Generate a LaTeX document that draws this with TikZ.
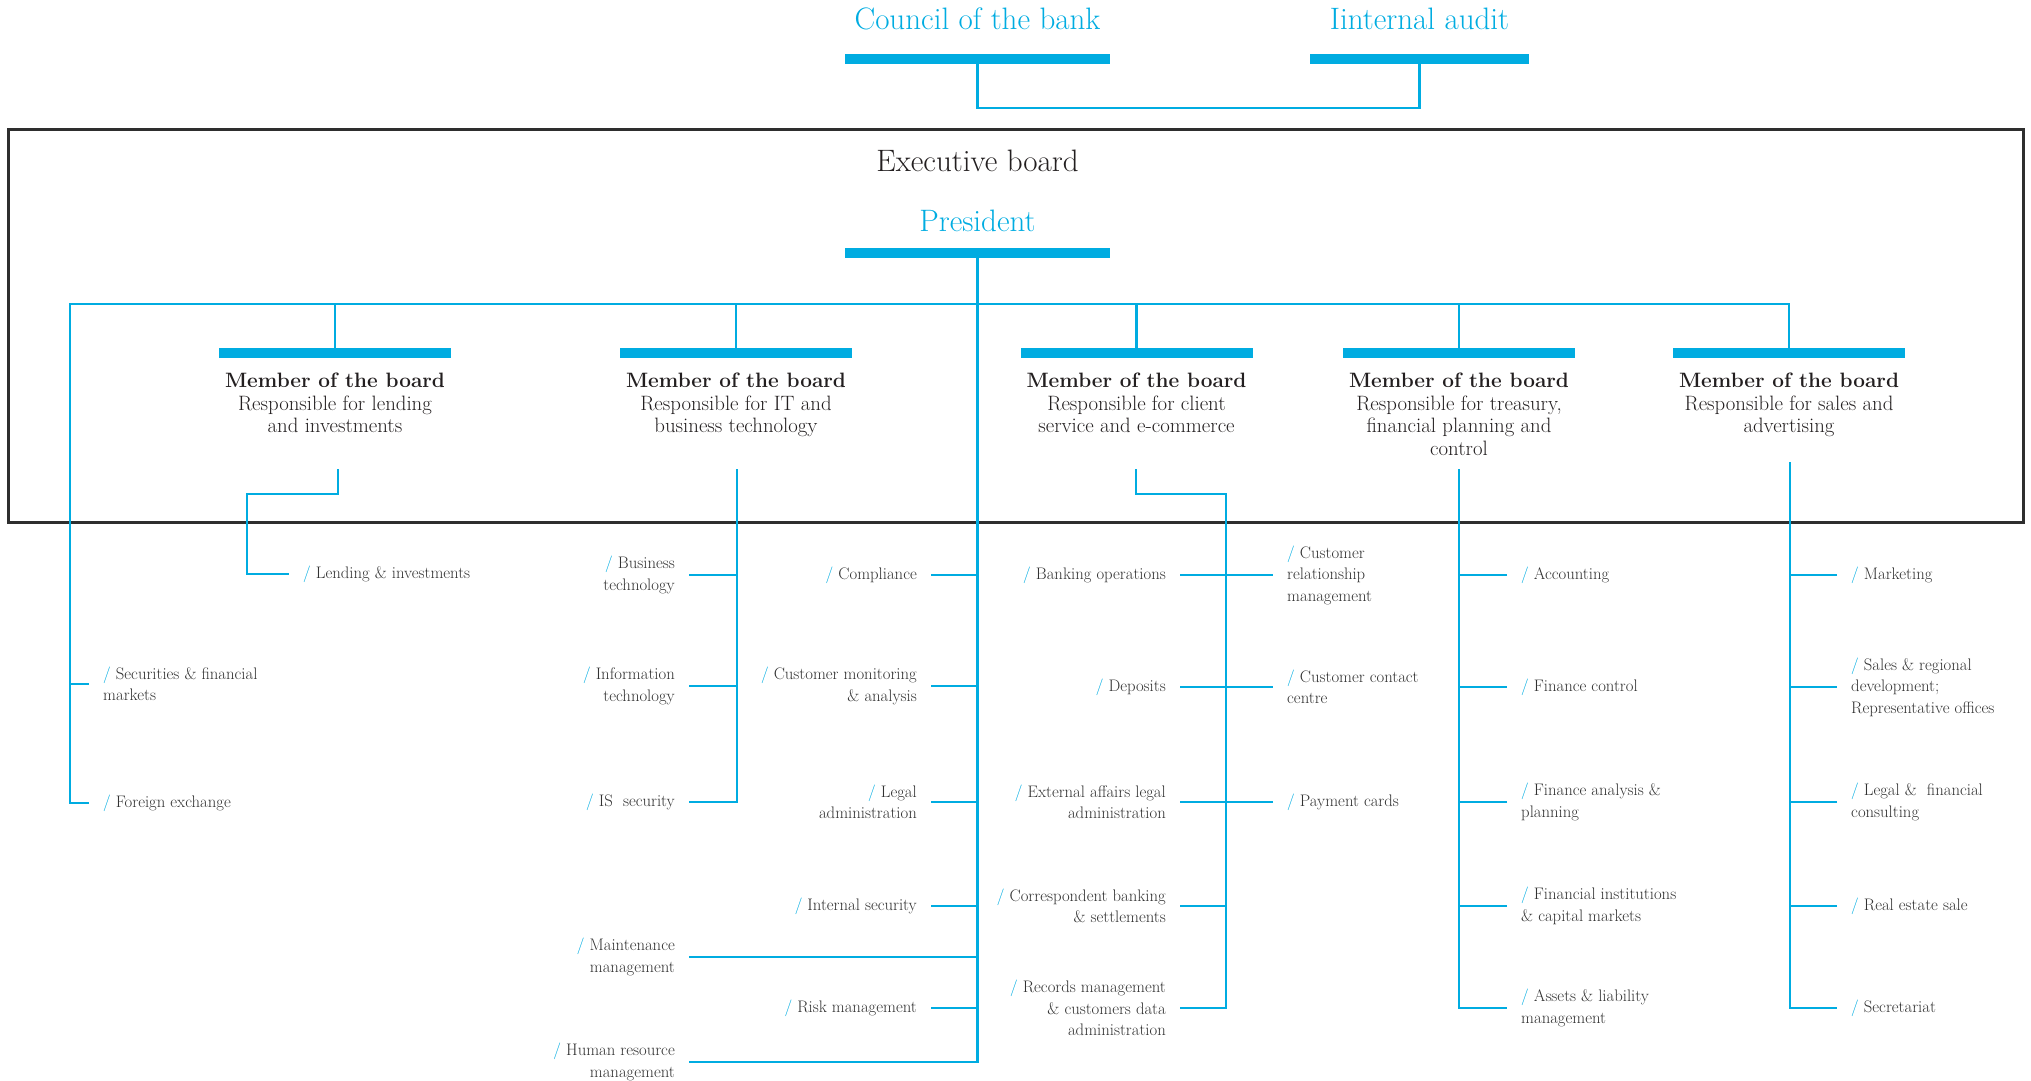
\documentclass[tikz,border=0pt]{standalone}
\usepackage{tikz}
\usetikzlibrary{positioning}

\definecolor{bankblue}{RGB}{0,172,225}
\definecolor{ink}{RGB}{35,31,32}
\definecolor{unitgray}{RGB}{50,50,50}
\newcommand{\unitslash}{{\color{bankblue}/}\ }

\begin{document}
\begin{tikzpicture}[x=1pt, y=-1pt]
    \tikzstyle{bar}=[fill=bankblue, inner sep=0pt, minimum height=10pt, minimum width=232pt]
    \tikzstyle{head}=[text=bankblue, inner sep=0pt, font=\fontsize{31}{36}\selectfont]
    \tikzstyle{member}=[text=ink, inner sep=0pt, align=center, font=\fontsize{20.8}{22.5}\selectfont]
    \tikzstyle{unit}=[text=unitgray, inner xsep=14pt, inner ysep=0pt, font=\fontsize{16.7}{21.5}\selectfont]
    \tikzstyle{unitL}=[unit, anchor=east, align=right]
    \tikzstyle{unitR}=[unit, anchor=west, align=left]
    \tikzstyle{link}=[draw=bankblue, line width=2.5pt]
    \tikzset{node distance=15pt}
    \useasboundingbox (0,0) rectangle (2031,1081);

    % executive board frame
    \draw[line width=3pt, draw=black!82] (8,129) rectangle (2023,522);

    \node[bar, minimum width=265pt] (cb) at (977.5,59) {};
    \node[bar, minimum width=219pt] (ab) at (1419.5,59) {};
    \node[head, above=24pt of cb] (council) {Council of the bank};
    \node[head, above=24pt of ab] (audit) {Iinternal audit};

    \node[bar, minimum width=265pt] (pb) at (977.5,253) {};
    \node[head, above=16pt of pb] (pres) {President};
    \node[head, text=ink, above=38pt of pres] (exec) {Executive board};

    \node[bar] (b1) at (335,353) {};
    \node[bar] (b2) at (736,353) {};
    \node[bar] (b3) at (1136.5,353) {};
    \node[bar] (b4) at (1459,353) {};
    \node[bar] (b5) at (1789,353) {};
    \node[member, below=of b1] (m1) {\textbf{Member of the board}\\Responsible for lending\\and investments};
    \node[member, below=of b2] (m2) {\textbf{Member of the board}\\Responsible for IT and\\business technology};
    \node[member, below=of b3] (m3) {\textbf{Member of the board}\\Responsible for client\\service and e-commerce};
    \node[member, below=of b4] (m4) {\textbf{Member of the board}\\Responsible for treasury,\\financial planning and\\control};
    \node[member, below=of b5] (m5) {\textbf{Member of the board}\\Responsible for sales and\\advertising};

    \coordinate (busL) at (70,304);
    \coordinate (s1) at (338,469);
    \coordinate (s2) at (737,469);
    \coordinate (s3) at (1136,469);
    \coordinate (c3) at (1226,494);
    \coordinate (s4) at (1459,469);
    \coordinate (s5) at (1790,462);

    % lending and investments
    \node[unitR] (lend) at (289,574) {\unitslash Lending \& investments};
    \node[unitR] (secm) at (89,684) {\unitslash Securities \& financial\\markets};
    \node[unitR] (fx) at (89,803) {\unitslash Foreign exchange};

    % IT and business technology
    \node[unitL] (bt) at (689,575) {\unitslash Business\\technology};
    \node[unitL] (it) at (689,686) {\unitslash Information\\technology};
    \node[unitL] (iss) at (689,802) {\unitslash IS~ security};
    \node[unitL] (mnt) at (689,957) {\unitslash Maintenance\\management};
    \node[unitL] (hr) at (689,1062) {\unitslash Human resource\\management};

    % president
    \node[unitL] (comp) at (931,575) {\unitslash Compliance};
    \node[unitL] (cma) at (931,686) {\unitslash Customer monitoring\\\& analysis};
    \node[unitL] (legal) at (931,802) {\unitslash Legal\\administration};
    \node[unitL] (isec) at (931,906) {\unitslash Internal security};
    \node[unitL] (risk) at (931,1008) {\unitslash Risk management};

    % client service
    \node[unitL] (bank) at (1180,575) {\unitslash Banking operations};
    \node[unitL] (dep) at (1180,687) {\unitslash Deposits};
    \node[unitL] (ext) at (1180,802) {\unitslash External affairs legal\\administration};
    \node[unitL] (corr) at (1180,906) {\unitslash Correspondent banking\\\& settlements};
    \node[unitL] (rec) at (1180,1008) {\unitslash Records management\\\& customers data\\administration};
    \node[unitR] (crm) at (1273,575) {\unitslash Customer\\relationship\\management};
    \node[unitR] (ccc) at (1273,687) {\unitslash Customer contact\\centre};
    \node[unitR] (pay) at (1273,802) {\unitslash Payment cards};

    % treasury
    \node[unitR] (acc) at (1507,575) {\unitslash Accounting};
    \node[unitR] (fc) at (1507,687) {\unitslash Finance control};
    \node[unitR] (fap) at (1507,802) {\unitslash Finance analysis \&\\planning};
    \node[unitR] (fin) at (1507,906) {\unitslash Financial institutions\\\& capital markets};
    \node[unitR] (alm) at (1507,1008) {\unitslash Assets \& liability\\management};

    % sales
    \node[unitR] (mkt) at (1837,575) {\unitslash Marketing};
    \node[unitR] (sales) at (1837,687) {\unitslash Sales \& regional\\development;\\Representative offices};
    \node[unitR] (lfc) at (1837,802) {\unitslash Legal \&~ financial\\consulting};
    \node[unitR] (rest) at (1837,906) {\unitslash Real estate sale};
    \node[unitR] (secr) at (1837,1008) {\unitslash Secretariat};

    \draw[link] (cb.south) -- ++(0,44) -| (ab.south);
    \draw[link] (fx.west) -| (busL) -| (b5.north);
    \foreach \b in {b1,b2,b3,b4} \draw[link] (\b.north) -- (\b.north |- busL);
    \draw[link] (pb.south) |- (hr.east);

    \draw[link] (s1) -- ++(0,25) -| ([xshift=-42pt]lend.west) -- (lend.west);
    \draw[link] (secm.west) -- (secm.west -| busL);

    \draw[link] (s2) |- (iss.east);
    \foreach \u in {bt,it} \draw[link] (\u.east) -- (\u.east -| s2);
    \foreach \u in {comp,cma,legal,isec,risk,mnt} \draw[link] (\u.east) -- (\u.east -| pb.south);

    \draw[link] (s3) |- (c3) |- (rec.east);
    \draw[link] (bank.east) -- (crm.west);
    \draw[link] (dep.east) -- (ccc.west);
    \draw[link] (ext.east) -- (pay.west);
    \draw[link] (corr.east) -- (corr.east -| c3);

    \draw[link] (s4) |- (alm.west);
    \foreach \u in {acc,fc,fap,fin} \draw[link] (\u.west) -- (\u.west -| s4);
    \draw[link] (s5) |- (secr.west);
    \foreach \u in {mkt,sales,lfc,rest} \draw[link] (\u.west) -- (\u.west -| s5);
\end{tikzpicture}
\end{document}
